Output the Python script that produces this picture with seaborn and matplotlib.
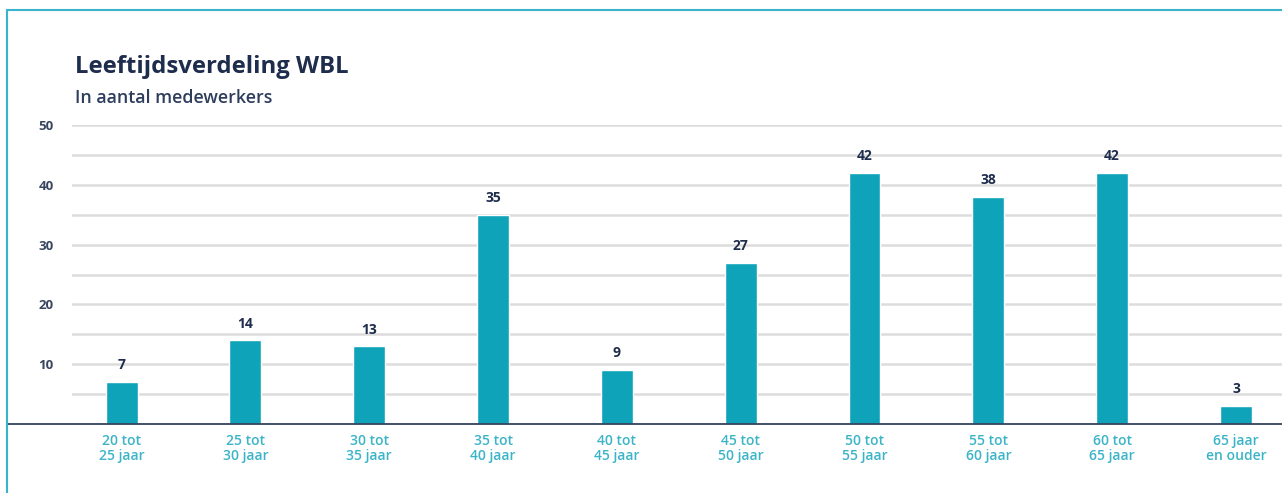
import matplotlib
matplotlib.use("Agg")
import matplotlib.pyplot as plt
import seaborn as sns
import pandas as pd
from matplotlib.patches import Rectangle

categories = ["20 tot\n25 jaar", "25 tot\n30 jaar", "30 tot\n35 jaar", "35 tot\n40 jaar",
              "40 tot\n45 jaar", "45 tot\n50 jaar", "50 tot\n55 jaar", "55 tot\n60 jaar",
              "60 tot\n65 jaar", "65 jaar\nen ouder"]
values = [7, 14, 13, 35, 9, 27, 42, 38, 42, 3]
yticks = [10, 20, 30, 40, 50]
title = "Leeftijdsverdeling WBL"
subtitle = "In aantal medewerkers"

sns.set_theme(style="white")
plt.rcParams['font.family'] = ['Open Sans', 'DejaVu Sans']

W, H = 1282, 493
fig = plt.figure(figsize=(W / 100, H / 100), dpi=100)
fig.patch.set_facecolor("white")

ax = fig.add_axes([72 / W, 1 - 424 / H, (W - 72) / W, (424 - 125) / H])
df = pd.DataFrame({"cat": categories, "val": values})
sns.barplot(data=df, x="cat", y="val", color="#0ea3b9", saturation=1, width=0.258, ax=ax)

navy = "#1f2d4d"
ax.set_ylim(0, 50)
ax.set_xlim(-0.401, 9.372)
for s in ax.spines.values():
    s.set_visible(False)

for g in range(5, 51, 5):
    ax.axhline(g, color="#dcdcdc", lw=1.8, zorder=0)
ax.axhline(0, xmin=-(72 - 7) / (W - 72), xmax=1, color="#34425e", lw=1.3, clip_on=False, zorder=3)

ax.set_yticks(yticks)
ax.set_yticklabels([str(t) for t in yticks], color="#3a4560", fontsize=9.5, fontweight="bold")
ax.tick_params(axis="y", length=0, pad=13)
ax.tick_params(axis="x", length=0, pad=7)
for lbl in ax.get_xticklabels():
    lbl.set_fontsize(10)
    lbl.set_color("#3cb4c8")
    lbl.set_fontweight("semibold")
    lbl.set_linespacing(1.1)
ax.set_xlabel("")
ax.set_ylabel("")

for c in ax.containers:
    ax.bar_label(c, labels=[str(v) for v in values], padding=7, color=navy,
                 fontsize=10, fontweight="bold")

fig.text(75 / W, 1 - 73 / H, title, fontsize=17.2, fontweight="bold", color=navy, va="baseline")
fig.text(75 / W, 1 - 103 / H, subtitle, fontsize=12.8, fontweight="semibold", color="#2e3d5c", va="baseline")

fig.add_artist(Rectangle((7 / W, -0.1), 1.2, 1 - 10 / H + 0.1, transform=fig.transFigure,
                         fill=False, edgecolor="#3ab4cc", lw=1.5))

fig.savefig("out.png", dpi=100)
